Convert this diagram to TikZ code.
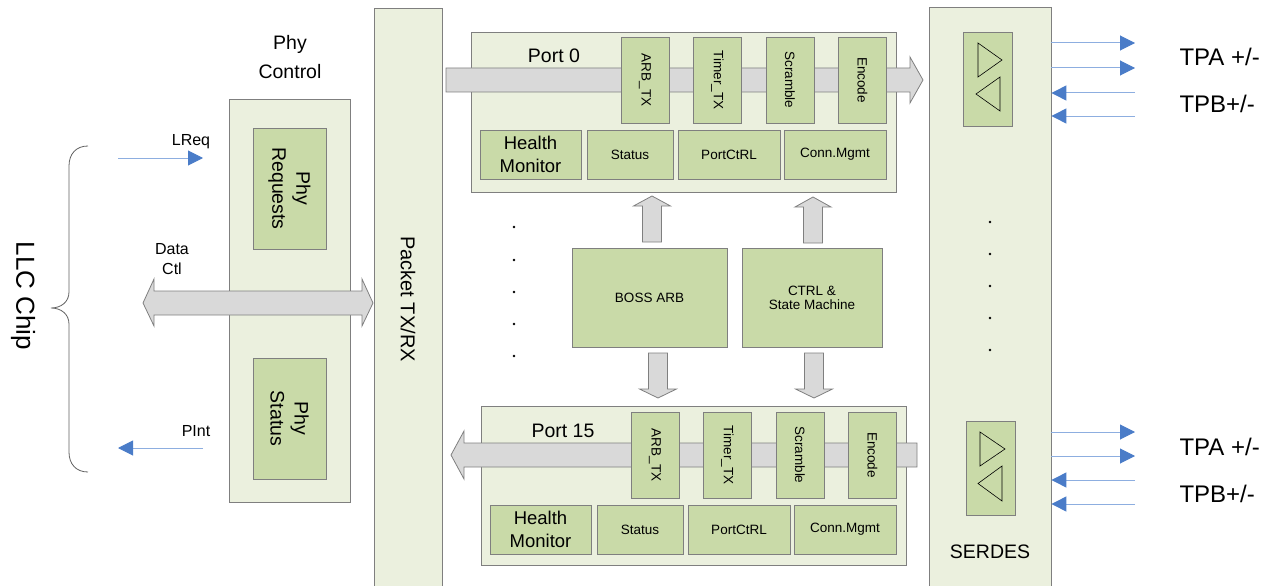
\documentclass[tikz,border=0pt]{standalone}
\usepackage{fontspec}
\setmainfont{Liberation Sans}
\usepackage{xcolor}
\usetikzlibrary{arrows.meta}

\definecolor{pale}{HTML}{EBF0DE}
\definecolor{leaf}{HTML}{C9DAA8}
\definecolor{edge}{HTML}{7F7F7F}
\definecolor{bargray}{HTML}{D9D9D9}
\definecolor{sighead}{HTML}{4A7CC8}
\definecolor{sigline}{HTML}{8DAEE0}
\definecolor{bracegray}{HTML}{606060}

\tikzset{
  outbox/.style={draw=edge, fill=pale, line width=0.8pt, inner sep=0pt},
  subbox/.style={draw=edge, fill=leaf, line width=0.8pt, inner sep=0pt,
    align=center, font=\fontsize{13.5}{14}\selectfont},
  midfont/.style={font=\fontsize{19.5}{24}\selectfont},
  blockarrow/.style={draw=edge, fill=bargray, line width=0.8pt},
  sigarrow/.style={draw=sigline, line width=1pt,
    -{Triangle[length=15pt,width=15pt,color=sighead]}},
  sigtext/.style={font=\fontsize{16}{20}\selectfont, align=center},
  tptext/.style={font=\fontsize{24}{30}\selectfont, anchor=base west},
}

\begin{document}
\begin{tikzpicture}[x=1pt,y=-1pt]
    \useasboundingbox (0,0) rectangle (1262,586);

    % LLC chip side
    \draw[bracegray, line width=0.8pt] (88,146) .. controls (76,146) and (69,154) .. (69,166)
      -- (69,292) .. controls (69,302) and (61,308) .. (51,308)
      .. controls (61,308) and (69,314) .. (69,324)
      -- (69,452) .. controls (69,464) and (76,472) .. (88,472);
    \node[rotate=-90, font=\fontsize{26}{30}\selectfont] (llc) at (23,296) {LLC Chip};

    \coordinate (lreqa) at (118,158);
    \coordinate (lreqb) at (203,158);
    \draw[sigarrow] (lreqa) -- (lreqb);
    \node[sigtext, anchor=base] (lreq) at (191,145) {LReq};
    \coordinate (pinta) at (203,448);
    \coordinate (pintb) at (118,448);
    \draw[sigarrow] (pinta) -- (pintb);
    \node[sigtext, anchor=base] (pint) at (196,436) {PInt};
    \node[sigtext] (datactl) at (172,259) {Data\\Ctl};

    % phy control
    \node[align=center, font=\fontsize{19.5}{29}\selectfont] (phylbl) at (290,57) {Phy\\Control};
    \node[outbox, minimum width=121pt, minimum height=403pt] (phy) at (289.5,300.5) {};
    \node[subbox, rotate=-90, minimum width=121pt, minimum height=73pt,
      font=\fontsize{19.5}{24}\selectfont] (preq) at (289.5,188.5) {Phy\\Requests};
    \node[subbox, rotate=-90, minimum width=121pt, minimum height=73pt,
      font=\fontsize{19.5}{24}\selectfont] (pstat) at (289.5,418.5) {Phy\\Status};

    % packet tx/rx
    \node[outbox, rotate=-90, minimum width=582pt, minimum height=68pt,
      font=\fontsize{20}{24}\selectfont] (pkt) at (408,299) {Packet TX/RX};

    \draw[blockarrow] (154,291) -- (362,291) -- (362,279) -- (373,303) -- (362,326)
      -- (362,315) -- (154,315) -- (154,326) -- (143,303) -- (154,279) -- cycle;

    % port 0
    \node[outbox, minimum width=425pt, minimum height=160pt] (porta) at (683.5,112) {};
    \draw[blockarrow] (446,68) -- (910,68) -- (910,57) -- (923,80) -- (910,103)
      -- (910,92) -- (446,92) -- cycle;
    \node[midfont, anchor=base] (portalbl) at (554,63) {Port 0};
    \node[subbox, rotate=-90, minimum width=86pt, minimum height=48pt] (arba) at (645,80) {ARB\_TX};
    \node[subbox, rotate=-90, minimum width=86pt, minimum height=48pt] (timera) at (717.5,80) {Timer\_TX};
    \node[subbox, rotate=-90, minimum width=86pt, minimum height=48pt] (scra) at (790,80) {Scramble};
    \node[subbox, rotate=-90, minimum width=86pt, minimum height=48pt] (enca) at (862.5,80) {Encode};
    \node[subbox, minimum width=101pt, minimum height=49pt,
      font=\fontsize{18.5}{23}\selectfont] (hma) at (530.5,154.5) {Health\\Monitor};
    \node[subbox, minimum width=86pt, minimum height=49pt] (sta) at (630,154.5) {Status};
    \node[subbox, minimum width=102pt, minimum height=49pt] (pca) at (729,154.5) {PortCtRL};
    \node[subbox, minimum width=102pt, minimum height=49pt] (cma) at (835,154.5) {Conn.Mgmt};

    % arbiter and control
    \node[subbox, minimum width=155pt, minimum height=99pt] (boss) at (649.5,297.5) {BOSS ARB};
    \node[subbox, minimum width=140pt, minimum height=99pt] (ctrl) at (812,297.5) {CTRL \&\\State Machine};
    \draw[blockarrow] (642.5,242) -- (642.5,206) -- (633.5,206) -- (652,196) -- (670.5,206)
      -- (661.5,206) -- (661.5,242) -- cycle;
    \draw[blockarrow] (803.5,243) -- (803.5,207) -- (795,207) -- (813,197) -- (831,207)
      -- (822.5,207) -- (822.5,243) -- cycle;
    \draw[blockarrow] (648.5,353) -- (667.5,353) -- (667.5,389) -- (676.5,389) -- (658,398)
      -- (639.5,389) -- (648.5,389) -- cycle;
    \draw[blockarrow] (804.5,353) -- (823.5,353) -- (823.5,389) -- (832.5,389) -- (814,398)
      -- (795.5,389) -- (804.5,389) -- cycle;
    \fill (514,227) circle[radius=1.4pt] (514,260) circle[radius=1.4pt]
      (514,292) circle[radius=1.4pt] (514,324) circle[radius=1.4pt] (514,356) circle[radius=1.4pt];

    % port 15
    \node[outbox, minimum width=425pt, minimum height=159pt] (portb) at (693.5,485.5) {};
    \draw[blockarrow] (917,443) -- (464,443) -- (464,431) -- (451,455) -- (464,479)
      -- (464,467) -- (917,467) -- cycle;
    \node[midfont, anchor=base] (portblbl) at (563,437) {Port 15};
    \node[subbox, rotate=-90, minimum width=86pt, minimum height=48pt] (arbb) at (655,455) {ARB\_TX};
    \node[subbox, rotate=-90, minimum width=86pt, minimum height=48pt] (timerb) at (727.5,455) {Timer\_TX};
    \node[subbox, rotate=-90, minimum width=86pt, minimum height=48pt] (scrb) at (800,455) {Scramble};
    \node[subbox, rotate=-90, minimum width=86pt, minimum height=48pt] (encb) at (872.5,455) {Encode};
    \node[subbox, minimum width=101pt, minimum height=49pt,
      font=\fontsize{18.5}{23}\selectfont] (hmb) at (540.5,529.5) {Health\\Monitor};
    \node[subbox, minimum width=86pt, minimum height=49pt] (stb) at (640,529.5) {Status};
    \node[subbox, minimum width=102pt, minimum height=49pt] (pcb) at (739,529.5) {PortCtRL};
    \node[subbox, minimum width=102pt, minimum height=49pt] (cmb) at (845,529.5) {Conn.Mgmt};

    % serdes
    \node[outbox, minimum width=122pt, minimum height=583pt] (serdes) at (990,298.5) {};
    \node[subbox, minimum width=49pt, minimum height=94pt] (sera) at (987.5,79) {};
    \node[subbox, minimum width=49pt, minimum height=94pt] (serb) at (990.5,468) {};
    \draw[line width=0.6pt] (978,43) -- (978,77) -- (1002,60) -- cycle;
    \draw[line width=0.6pt] (1000,77) -- (1000,111) -- (976,94) -- cycle;
    \draw[line width=0.6pt] (980,432) -- (980,466) -- (1005,449) -- cycle;
    \draw[line width=0.6pt] (1002,466) -- (1002,501) -- (978,483.5) -- cycle;
    \fill (990,222) circle[radius=1.4pt] (990,254) circle[radius=1.4pt]
      (990,286) circle[radius=1.4pt] (990,318) circle[radius=1.4pt] (990,350) circle[radius=1.4pt];
    \node[midfont, anchor=base] (serlbl) at (990,558) {SERDES};

    % line side
    \coordinate (tpaa) at (1135,43);
    \coordinate (tpab) at (1135,68);
    \coordinate (tpba) at (1135,93);
    \coordinate (tpbb) at (1135,116);
    \draw[sigarrow] (serdes.east |- tpaa) -- (tpaa);
    \draw[sigarrow] (serdes.east |- tpab) -- (tpab);
    \draw[sigarrow] (tpba) -- (serdes.east |- tpba);
    \draw[sigarrow] (tpbb) -- (serdes.east |- tpbb);
    \node[tptext] (tpa) at (1176,66) {TPA +/-};
    \node[tptext] (tpb) at (1176,113) {TPB+/-};

    \coordinate (tpac) at (1135,432);
    \coordinate (tpad) at (1135,456);
    \coordinate (tpbc) at (1135,480);
    \coordinate (tpbd) at (1135,504);
    \draw[sigarrow] (serdes.east |- tpac) -- (tpac);
    \draw[sigarrow] (serdes.east |- tpad) -- (tpad);
    \draw[sigarrow] (tpbc) -- (serdes.east |- tpbc);
    \draw[sigarrow] (tpbd) -- (serdes.east |- tpbd);
    \node[tptext] (tpc) at (1176,455) {TPA +/-};
    \node[tptext] (tpd) at (1176,502) {TPB+/-};
  \end{tikzpicture}
\end{document}
